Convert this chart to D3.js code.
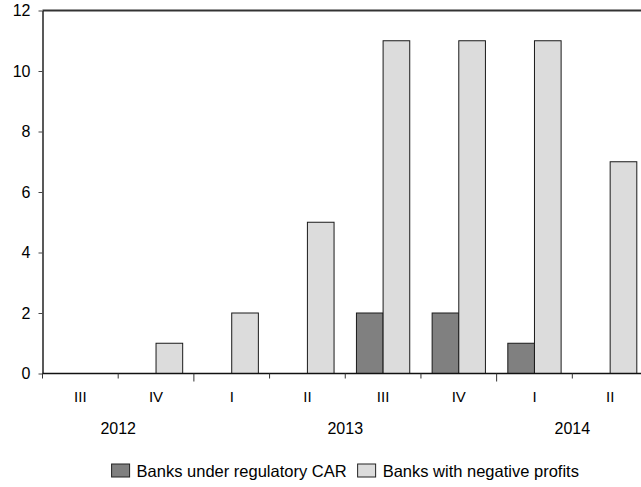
<!DOCTYPE html>
<html><head><meta charset="utf-8">
<script src="https://cdn.jsdelivr.net/npm/d3@7"></script>
<style>
html,body{margin:0;padding:0;background:#fff;}
svg{display:block;font-family:"Liberation Sans",Arial,Helvetica,sans-serif;}
text{fill:#000;}
</style></head>
<body>
<svg id="chart" width="641" height="487"></svg>
<script>
const quarters = ["III","IV","I","II","III","IV","I","II"];
const quarterYears = ["2012","2012","2013","2013","2013","2013","2014","2014"];
const years = ["2012","2013","2014"];
const seriesNames = ["Banks under regulatory CAR","Banks with negative profits"];
const underCAR = [0,0,0,0,2,2,1,0];
const negativeProfits = [0,1,2,5,11,11,11,7];
const seriesColors = ["#808080","#dcdcdc"];
const yTicks = [0,2,4,6,8,10,12];

(function(){
const svg = d3.select("#chart");
const mLeft = 42.5, mRight = 648, mTop = 10.5, mBottom = 373.5;

const x = d3.scaleBand().domain(d3.range(quarters.length)).range([mLeft, mRight]).paddingInner(0).paddingOuter(0);
const xs = d3.scaleBand().domain([0,1]).range([0, x.bandwidth()]).paddingInner(0).paddingOuter(0.42);
const y = d3.scaleLinear().domain([0,12]).range([mBottom, mTop]);

const values = [underCAR, negativeProfits];

values.forEach((vals, s) => {
  svg.append("g").selectAll("rect")
    .data(vals.map((v,i)=>({v,i})).filter(d=>d.v>0))
    .join("rect")
    .attr("x", d => x(d.i) + xs(s))
    .attr("y", d => y(d.v))
    .attr("width", xs.bandwidth())
    .attr("height", d => y(0) - y(d.v))
    .attr("fill", seriesColors[s])
    .attr("stroke", "#1a1a1a")
    .attr("stroke-width", 1);
});

svg.append("line").attr("x1", mLeft).attr("x2", 641).attr("y1", mTop).attr("y2", mTop)
  .attr("stroke", "#333").attr("stroke-width", 2);

const yAxis = d3.axisLeft(y).tickValues(yTicks).tickSize(4).tickPadding(8).tickSizeOuter(0);
const gy = svg.append("g").attr("transform", `translate(${mLeft},0)`).call(yAxis);
gy.select(".domain").attr("stroke", "#222").attr("stroke-width", 1.5);
gy.selectAll(".tick line").attr("stroke", "#444");
gy.selectAll(".tick text").attr("font-size", 16).attr("fill", "#000").style("font-family", "'Liberation Sans',Arial,sans-serif");

svg.append("line").attr("x1", mLeft).attr("x2", 641).attr("y1", mBottom).attr("y2", mBottom)
  .attr("stroke", "#111").attr("stroke-width", 1.5);

const boundaries = d3.range(quarters.length + 1);
svg.append("g").selectAll("line").data(boundaries).join("line")
  .attr("x1", i => i < quarters.length ? x(i) : mRight)
  .attr("x2", i => i < quarters.length ? x(i) : mRight)
  .attr("y1", mBottom)
  .attr("y2", i => (i > 0 && i < quarters.length && quarterYears[i] !== quarterYears[i-1]) ? mBottom + 8 : mBottom + 5)
  .attr("stroke", "#333").attr("stroke-width", 1);

svg.append("g").selectAll("text").data(quarters).join("text")
  .attr("x", (d,i) => x(i) + x.bandwidth()/2)
  .attr("y", 402)
  .attr("text-anchor", "middle")
  .attr("font-size", 15)
  .attr("fill", "#000")
  .text(d => d);

years.forEach(yr => {
  const idx = quarterYears.map((q,i)=>q===yr?i:-1).filter(i=>i>=0);
  const x0 = x(idx[0]), x1 = x(idx[idx.length-1]) + x.bandwidth();
  svg.append("text").attr("x", (x0+x1)/2).attr("y", 434)
    .attr("text-anchor", "middle").attr("font-size", 16).attr("fill", "#000").text(yr);
});

const lg = svg.append("g");
let cx = 0;
seriesNames.forEach((name, s) => {
  const g = lg.append("g");
  g.append("rect").attr("x", 0).attr("y", -13).attr("width", 18).attr("height", 13)
    .attr("fill", seriesColors[s]).attr("stroke", "#222").attr("stroke-width", 1);
  const t = g.append("text").attr("x", 25).attr("y", 0).attr("font-size", 16.5).attr("fill", "#000").text(name);
  const w = 25 + t.node().getComputedTextLength();
  g.attr("transform", `translate(${cx},0)`);
  cx += w + 11;
});
const totalW = cx - 11;
lg.attr("transform", `translate(${(mLeft + mRight)/2 - totalW/2},477)`);
})();
</script>
</body></html>
